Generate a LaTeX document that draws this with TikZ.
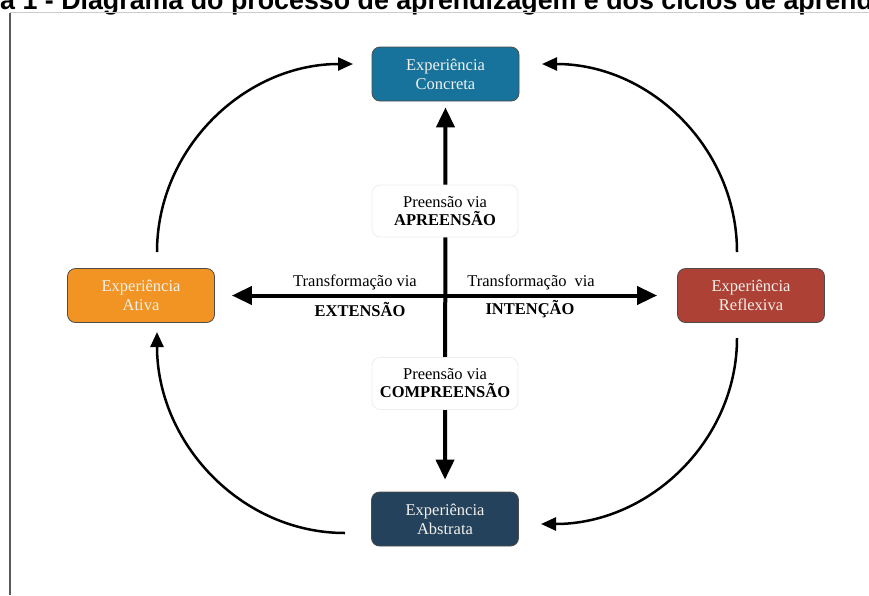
\documentclass[tikz,border=0pt]{standalone}
\usepackage{fontspec}
\setmainfont{Liberation Serif}
\newfontfamily\titlefont{Liberation Sans}
\usetikzlibrary{arrows.meta}
\definecolor{cconc}{HTML}{17739C}
\definecolor{cativ}{HTML}{F29423}
\definecolor{crefl}{HTML}{AE4135}
\definecolor{cabst}{HTML}{24425C}
\definecolor{boxtext}{HTML}{F3F1EC}
\tikzset{
  exbox/.style={rounded corners=8pt, draw=black!70, line width=0.8pt, minimum width=147pt,
    minimum height=54pt, align=center, text=boxtext, inner sep=0pt,
    font=\fontsize{16.5}{19}\selectfont},
  lbox/.style={rounded corners=8pt, draw=black!7, fill=white, line width=0.8pt, minimum width=146pt,
    minimum height=52pt, align=center, inner sep=0pt, font=\fontsize{16.5}{18}\selectfont},
  tlab/.style={inner sep=0pt, font=\fontsize{16.5}{19}\selectfont},
  axis/.style={line width=4pt, {Triangle[length=20pt,width=18pt]}-{Triangle[length=20pt,width=18pt]}},
  cyc/.style={line width=2.5pt, -{Triangle[length=15pt,width=13pt]}}
}
\begin{document}
\begin{tikzpicture}[x=1pt,y=-1pt]
\useasboundingbox (0,0) rectangle (869,595);
\begin{scope}
\clip (0,0) rectangle (869,595);
\node[anchor=base west, inner sep=0pt, font=\titlefont\bfseries\fontsize{26.8}{32}\selectfont] (title) at (-67,9.5)
  {Figura 1 - Diagrama do processo de aprendizagem e dos ciclos de aprendizagem};
\end{scope}
\draw[black!20, line width=1pt] (10,12.5) -- (869,12.5);
\draw[black!65, line width=1.5pt] (10,12.5) -- (10,595);

\node[exbox, fill=cconc] (C) at (445.5,74) {Experiência\\Concreta};
\node[exbox, fill=cativ] (A) at (141,295.5) {Experiência\\Ativa};
\node[exbox, fill=crefl] (R) at (751,295.5) {Experiência\\Reflexiva};
\node[exbox, fill=cabst] (B) at (445,519) {Experiência\\Abstrata};

\draw[axis, shorten <=6pt, shorten >=12pt] (C.south) -- (B.north);
\draw[axis, shorten <=17pt, shorten >=20pt] (A.east) -- (R.west);

\node[lbox] (P1) at (445,211) {Preensão via\\\textbf{APREENSÃO}};
\node[lbox] (P2) at (445,383.5) {Preensão via\\\textbf{COMPREENSÃO}};

\node[tlab] (T1) at (355,282) {Transformação via};
\node[tlab] (E1) at (360,309) {\textbf{EXTENSÃO}};
\node[tlab] (T2) at (531,282) {Transformação\hskip 8pt via};
\node[tlab] (I1) at (530,309) {\textbf{INTENÇÃO}};

\coordinate (a1s) at (157,252); \coordinate (a1e) at (353,64);
\coordinate (a2s) at (737,252); \coordinate (a2e) at (542,64);
\coordinate (a3s) at (737,338); \coordinate (a3e) at (541,524);
\coordinate (a4s) at (345,533); \coordinate (a4e) at (157,332);
\draw[cyc] (a1s) .. controls (157,148) and (245,64) .. (a1e);
\draw[cyc] (a2s) .. controls (737,148) and (650,64) .. (a2e);
\draw[cyc] (a3s) .. controls (737,441) and (649,524) .. (a3e);
\draw[cyc] (a4s) .. controls (241,533) and (157,443) .. (a4e);
\end{tikzpicture}
\end{document}
